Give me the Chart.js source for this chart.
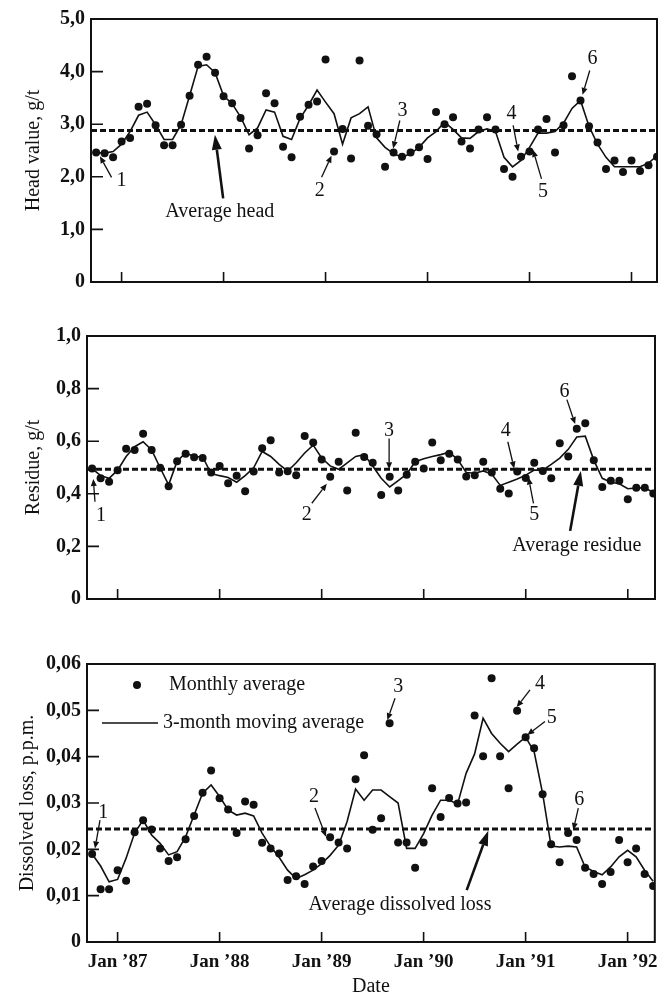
<!DOCTYPE html>
<html>
<head>
<meta charset="utf-8">
<script src="https://cdn.jsdelivr.net/npm/chart.js@4.4.0/dist/chart.umd.min.js"></script>
<style>
    body { margin: 0; background: #fff; width: 667px; height: 998px; position: relative; overflow: hidden; }
    canvas { position: absolute; left: 0; }
</style>
</head>
<body>
<canvas id="head" width="667" height="300" style="top:0px"></canvas>
<canvas id="residue" width="667" height="317" style="top:300px"></canvas>
<canvas id="dissolved" width="667" height="381" style="top:617px"></canvas>
<script>
// months counted from Jan 1987 (Oct '86 = -3 ... Apr '92 = 63)
var months = [-3, -2, -1, 0, 1, 2, 3, 4, 5, 6, 7, 8, 9, 10, 11, 12, 13, 14, 15, 16, 17, 18, 19, 20, 21, 22,
    23, 24, 25, 26, 27, 28, 29, 30, 31, 32, 33, 34, 35, 36, 37, 38, 39, 40, 41, 42, 43, 44, 45, 46, 47, 48,
    49, 50, 51, 52, 53, 54, 55, 56, 57, 58, 59, 60, 61, 62, 63];
var yearTicks = [0, 12, 24, 36, 48, 60];
var yearLabels = ["Jan \u201987", "Jan \u201988", "Jan \u201989", "Jan \u201990", "Jan \u201991", "Jan \u201992"];

// head value, g/t
var headMonthly = [2.46, 2.45, 2.37, 2.67, 2.74, 3.33, 3.39, 2.98, 2.60, 2.60, 2.99, 3.54, 4.13, 4.28, 3.98, 3.53,
    3.40, 3.12, 2.54, 2.79, 3.59, 3.40, 2.57, 2.37, 3.14, 3.37, 3.43, 4.23, 2.48, 2.91, 2.35, 4.21, 2.97, 2.81,
    2.19, 2.46, 2.38, 2.46, 2.56, 2.34, 3.23, 3.00, 3.13, 2.67, 2.54, 2.90, 3.13, 2.90, 2.15, 2.00, 2.38, 2.48,
    2.90, 3.10, 2.46, 2.98, 3.91, 3.45, 2.96, 2.65, 2.15, 2.31, 2.09, 2.31, 2.11, 2.22, 2.38];
var headMoving = [2.46, 2.45, 2.48, 2.62, 2.86, 3.17, 3.23, 2.99, 2.71, 2.71, 2.99, 3.54, 4.10, 4.13, 3.98, 3.54,
    3.39, 3.14, 2.80, 2.93, 3.27, 3.23, 2.77, 2.71, 3.11, 3.36, 3.65, 3.42, 3.20, 2.62, 3.12, 3.20, 3.33, 2.74,
    2.56, 2.44, 2.37, 2.44, 2.56, 2.74, 2.86, 3.04, 2.90, 2.74, 2.73, 2.86, 2.91, 2.86, 2.37, 2.19, 2.31, 2.56,
    2.83, 2.83, 2.86, 3.02, 3.30, 3.45, 2.96, 2.62, 2.37, 2.19, 2.19, 2.19, 2.19, 2.26, 2.40];
var headAverage = 2.88;
var headTicks = [0, 1, 2, 3, 4, 5];
var headTickLabels = ["0", "1,0", "2,0", "3,0", "4,0", "5,0"];

// residue, g/t
var residueMonthly = [0.496, 0.459, 0.446, 0.490, 0.571, 0.567, 0.628, 0.567, 0.499, 0.429, 0.524, 0.552, 0.539,
    0.536, 0.481, 0.506, 0.440, 0.469, 0.410, 0.485, 0.573, 0.604, 0.481, 0.486, 0.471, 0.620, 0.595, 0.530,
    0.465, 0.522, 0.413, 0.632, 0.540, 0.518, 0.395, 0.465, 0.413, 0.472, 0.522, 0.496, 0.595, 0.528, 0.552,
    0.530, 0.466, 0.471, 0.522, 0.481, 0.419, 0.401, 0.485, 0.460, 0.518, 0.487, 0.459, 0.592, 0.542, 0.647,
    0.668, 0.528, 0.426, 0.450, 0.450, 0.379, 0.423, 0.423, 0.401];
var residueMoving = [0.496, 0.469, 0.459, 0.490, 0.542, 0.579, 0.598, 0.567, 0.499, 0.434, 0.524, 0.555, 0.542,
    0.540, 0.477, 0.469, 0.462, 0.444, 0.469, 0.499, 0.561, 0.542, 0.512, 0.486, 0.518, 0.555, 0.585, 0.536,
    0.506, 0.493, 0.518, 0.542, 0.549, 0.506, 0.459, 0.426, 0.450, 0.475, 0.522, 0.533, 0.542, 0.549, 0.558,
    0.530, 0.481, 0.478, 0.487, 0.475, 0.432, 0.444, 0.456, 0.471, 0.490, 0.490, 0.512, 0.536, 0.569, 0.616,
    0.619, 0.528, 0.459, 0.444, 0.438, 0.419, 0.422, 0.423, 0.405];
var residueAverage = 0.493;
var residueTicks = [0, 0.2, 0.4, 0.6, 0.8, 1.0];
var residueTickLabels = ["0", "0,2", "0,4", "0,6", "0,8", "1,0"];

// dissolved loss, p.p.m.
var dissolvedMonthly = [0.0190, 0.0114, 0.0114, 0.0155, 0.0132, 0.0237, 0.0263, 0.0243, 0.0202, 0.0175, 0.0183,
    0.0222, 0.0272, 0.0322, 0.0370, 0.0310, 0.0286, 0.0235, 0.0303, 0.0296, 0.0214, 0.0202, 0.0191, 0.0134,
    0.0142, 0.0125, 0.0163, 0.0175, 0.0226, 0.0215, 0.0202, 0.0351, 0.0403, 0.0242, 0.0267, 0.0472, 0.0215,
    0.0215, 0.0160, 0.0215, 0.0332, 0.0270, 0.0311, 0.0299, 0.0301, 0.0489, 0.0401, 0.0569, 0.0401, 0.0332,
    0.0499, 0.0442, 0.0418, 0.0319, 0.0211, 0.0172, 0.0235, 0.0220, 0.0160, 0.0147, 0.0125, 0.0151, 0.0220,
    0.0172, 0.0202, 0.0147, 0.0121];
var dissolvedMoving = [0.0190, 0.0164, 0.0130, 0.0135, 0.0181, 0.0235, 0.0263, 0.0231, 0.0213, 0.0188, 0.0195,
    0.0227, 0.0274, 0.0321, 0.0339, 0.0314, 0.0285, 0.0274, 0.0278, 0.0272, 0.0235, 0.0206, 0.0183, 0.0155,
    0.0137, 0.0145, 0.0155, 0.0169, 0.0187, 0.0209, 0.0260, 0.0330, 0.0306, 0.0328, 0.0328, 0.0314, 0.0300,
    0.0202, 0.0202, 0.0234, 0.0274, 0.0306, 0.0306, 0.0298, 0.0364, 0.0406, 0.0483, 0.0450, 0.0429, 0.0411,
    0.0427, 0.0442, 0.0411, 0.0321, 0.0207, 0.0205, 0.0207, 0.0205, 0.0162, 0.0152, 0.0145, 0.0162, 0.0184,
    0.0198, 0.0184, 0.0155, 0.0131];
var dissolvedAverage = 0.0244;
var dissolvedTicks = [0, 0.01, 0.02, 0.03, 0.04, 0.05, 0.06];
var dissolvedTickLabels = ["0", "0,01", "0,02", "0,03", "0,04", "0,05", "0,06"];

// numbered call-outs, placed in data units: label spot, arrow tail, arrow tip
var headNotes = [
    { text: "1", at: [0, 1.93], from: [-1.18, 1.99], to: [-2.55, 2.39] },
    { text: "2", at: [23.33, 1.74], from: [23.53, 1.99], to: [24.7, 2.40] },
    { text: "3", at: [33.06, 3.26], from: [32.74, 3.07], to: [31.95, 2.54] },
    { text: "4", at: [45.88, 3.19], from: [46.07, 2.98], to: [46.66, 2.48] },
    { text: "5", at: [49.6, 1.71], from: [49.41, 1.96], to: [48.42, 2.51] },
    { text: "6", at: [55.41, 4.24], from: [55.09, 4.02], to: [54.24, 3.56] },
    { text: "Average head", at: [11.56, 1.33], from: [11.95, 1.59], to: [10.98, 2.80], big: true }
];
var residueNotes = [
    { text: "1", at: [-1.95, 0.318], from: [-2.66, 0.370], to: [-2.86, 0.456] },
    { text: "2", at: [22.25, 0.321], from: [22.84, 0.364], to: [24.6, 0.438] },
    { text: "3", at: [31.93, 0.641], from: [31.93, 0.610], to: [31.93, 0.493] },
    { text: "4", at: [45.66, 0.641], from: [45.89, 0.598], to: [46.64, 0.496] },
    { text: "5", at: [48.99, 0.321], from: [48.91, 0.364], to: [48.32, 0.462] },
    { text: "6", at: [52.55, 0.789], from: [52.84, 0.758], to: [53.81, 0.665] },
    { text: "Average residue", at: [54.01, 0.204], from: [53.22, 0.259], to: [54.48, 0.487], big: true }
];
var dissolvedNotes = [
    { text: "1", at: [-1.68, 0.0278], from: [-2.07, 0.0263], to: [-2.66, 0.0202] },
    { text: "2", at: [23.1, 0.0314], from: [23.22, 0.0289], to: [24.52, 0.0227] },
    { text: "3", at: [33.02, 0.0551], from: [32.64, 0.0526], to: [31.73, 0.0479] },
    { text: "4", at: [49.69, 0.0557], from: [48.52, 0.0544], to: [46.95, 0.0507] },
    { text: "5", at: [51.07, 0.0485], from: [50.28, 0.0476], to: [48.2, 0.0447] },
    { text: "6", at: [54.32, 0.0308], from: [54.2, 0.0289], to: [53.61, 0.0242] },
    { text: "Average dissolved loss", at: [33.22, 0.0080], from: [41.07, 0.0112], to: [43.61, 0.0240], big: true }
];

var serif = "'Liberation Serif', 'DejaVu Serif', serif";
var ink = "#111";
Chart.defaults.font.family = serif;
Chart.defaults.font.size = 20;
Chart.defaults.color = ink;

function points(values) {
    return months.map(function (m, i) { return { x: m, y: values[i] }; });
}

function arrow(ctx, x1, y1, x2, y2, big) {
    var len = big ? 15 : 7, half = big ? 5 : 3;
    var a = Math.atan2(y2 - y1, x2 - x1), c = Math.cos(a), s = Math.sin(a);
    ctx.lineWidth = big ? 2.6 : 1.3;
    ctx.beginPath();
    ctx.moveTo(x1, y1);
    ctx.lineTo(x2 - len * c, y2 - len * s);
    ctx.stroke();
    ctx.beginPath();
    ctx.moveTo(x2, y2);
    ctx.lineTo(x2 - len * c + half * s, y2 - len * s - half * c);
    ctx.lineTo(x2 - len * c - half * s, y2 - len * s + half * c);
    ctx.closePath();
    ctx.fill();
}

// box, inward ticks, call-outs and the key
var framePlugin = {
    id: "frame",
    afterDatasetsDraw: function (chart, args, opts) {
        var ctx = chart.ctx, area = chart.chartArea;
        var xs = chart.scales.x, ys = chart.scales.y;
        ctx.save();
        ctx.strokeStyle = ink;
        ctx.fillStyle = ink;
        ctx.lineWidth = 2;
        ctx.strokeRect(area.left, area.top, area.right - area.left, area.bottom - area.top);

        ctx.lineWidth = 1.6;
        ctx.beginPath();
        ys.ticks.forEach(function (t) {
            var y = ys.getPixelForValue(t.value);
            ctx.moveTo(area.left, y);
            ctx.lineTo(area.left + 12, y);
        });
        xs.ticks.forEach(function (t) {
            var x = xs.getPixelForValue(t.value);
            ctx.moveTo(x, area.bottom);
            ctx.lineTo(x, area.bottom - 10);
        });
        ctx.stroke();

        ctx.font = "20px " + serif;
        ctx.textAlign = "center";
        ctx.textBaseline = "middle";
        (opts.notes || []).forEach(function (n) {
            ctx.fillText(n.text, xs.getPixelForValue(n.at[0]), ys.getPixelForValue(n.at[1]));
            arrow(ctx, xs.getPixelForValue(n.from[0]), ys.getPixelForValue(n.from[1]),
                xs.getPixelForValue(n.to[0]), ys.getPixelForValue(n.to[1]), n.big);
        });

        if (opts.key) {
            ctx.textAlign = "left";
            ctx.beginPath();
            ctx.arc(area.left + 50, area.top + 21, 4, 0, Math.PI * 2);
            ctx.fill();
            ctx.fillText("Monthly average", area.left + 82, area.top + 21);
            ctx.lineWidth = 1.6;
            ctx.beginPath();
            ctx.moveTo(area.left + 15, area.top + 59);
            ctx.lineTo(area.left + 71, area.top + 59);
            ctx.stroke();
            ctx.fillText("3-month moving average", area.left + 76, area.top + 59);
        }
        ctx.restore();
    }
};

function drawPanel(id, p) {
    var xMin = -3.6, xMax = p.xMax;
    new Chart(document.getElementById(id), {
        type: "line",
        data: {
            datasets: [{
                data: [{ x: xMin, y: p.average }, { x: xMax, y: p.average }],
                borderColor: ink,
                borderWidth: 3,
                borderDash: [6, 3],
                pointRadius: 0
            }, {
                data: points(p.moving),
                borderColor: ink,
                borderWidth: 1.6,
                pointRadius: 0,
                tension: 0
            }, {
                data: points(p.monthly),
                showLine: false,
                pointRadius: 4,
                pointBackgroundColor: ink,
                pointBorderWidth: 0
            }]
        },
        options: {
            responsive: false,
            animation: false,
            layout: { padding: { top: p.top, right: p.right, left: 0, bottom: 0 } },
            plugins: {
                legend: { display: false },
                tooltip: { enabled: false },
                frame: { notes: p.notes, key: p.key }
            },
            scales: {
                x: {
                    type: "linear",
                    min: xMin,
                    max: xMax,
                    afterBuildTicks: function (s) { s.ticks = yearTicks.map(function (v) { return { value: v }; }); },
                    afterFit: function (s) { s.height = p.xHeight; },
                    ticks: {
                        display: !!p.dates,
                        autoSkip: false,
                        maxRotation: 0,
                        padding: 9,
                        font: { weight: "bold", size: 19 },
                        callback: function (v, i) { return yearLabels[i]; }
                    },
                    grid: { display: false, drawTicks: false },
                    border: { display: false },
                    title: { display: !!p.dates, text: "Date", padding: { top: 0, bottom: -1 } }
                },
                y: {
                    min: p.ticks[0],
                    max: p.ticks[p.ticks.length - 1],
                    afterBuildTicks: function (s) { s.ticks = p.ticks.map(function (v) { return { value: v }; }); },
                    afterFit: function (s) { s.width = p.left; },
                    ticks: {
                        padding: 6,
                        font: { weight: "bold", size: 20 },
                        callback: function (v, i) { return p.tickLabels[i]; }
                    },
                    grid: { display: false, drawTicks: false },
                    border: { display: false },
                    title: { display: true, text: p.title, padding: { top: p.titlePad, bottom: 0 } }
                }
            }
        },
        plugins: [framePlugin]
    });
}

drawPanel("head", {
    monthly: headMonthly, moving: headMoving, average: headAverage,
    ticks: headTicks, tickLabels: headTickLabels, title: "Head value, g/t",
    notes: headNotes, top: 19, right: 10, left: 91, xHeight: 11, xMax: 63.0, titlePad: 22
});

drawPanel("residue", {
    monthly: residueMonthly, moving: residueMoving, average: residueAverage,
    ticks: residueTicks, tickLabels: residueTickLabels, title: "Residue, g/t",
    notes: residueNotes, top: 36, right: 12, left: 87, xHeight: 10, xMax: 63.2, titlePad: 22
});

drawPanel("dissolved", {
    monthly: dissolvedMonthly, moving: dissolvedMoving, average: dissolvedAverage,
    ticks: dissolvedTicks, tickLabels: dissolvedTickLabels, title: "Dissolved loss, p.p.m.",
    notes: dissolvedNotes, top: 47, right: 12, left: 87, xHeight: 56, xMax: 63.2, titlePad: 16,
    key: true, dates: true
});
</script>
</body>
</html>
